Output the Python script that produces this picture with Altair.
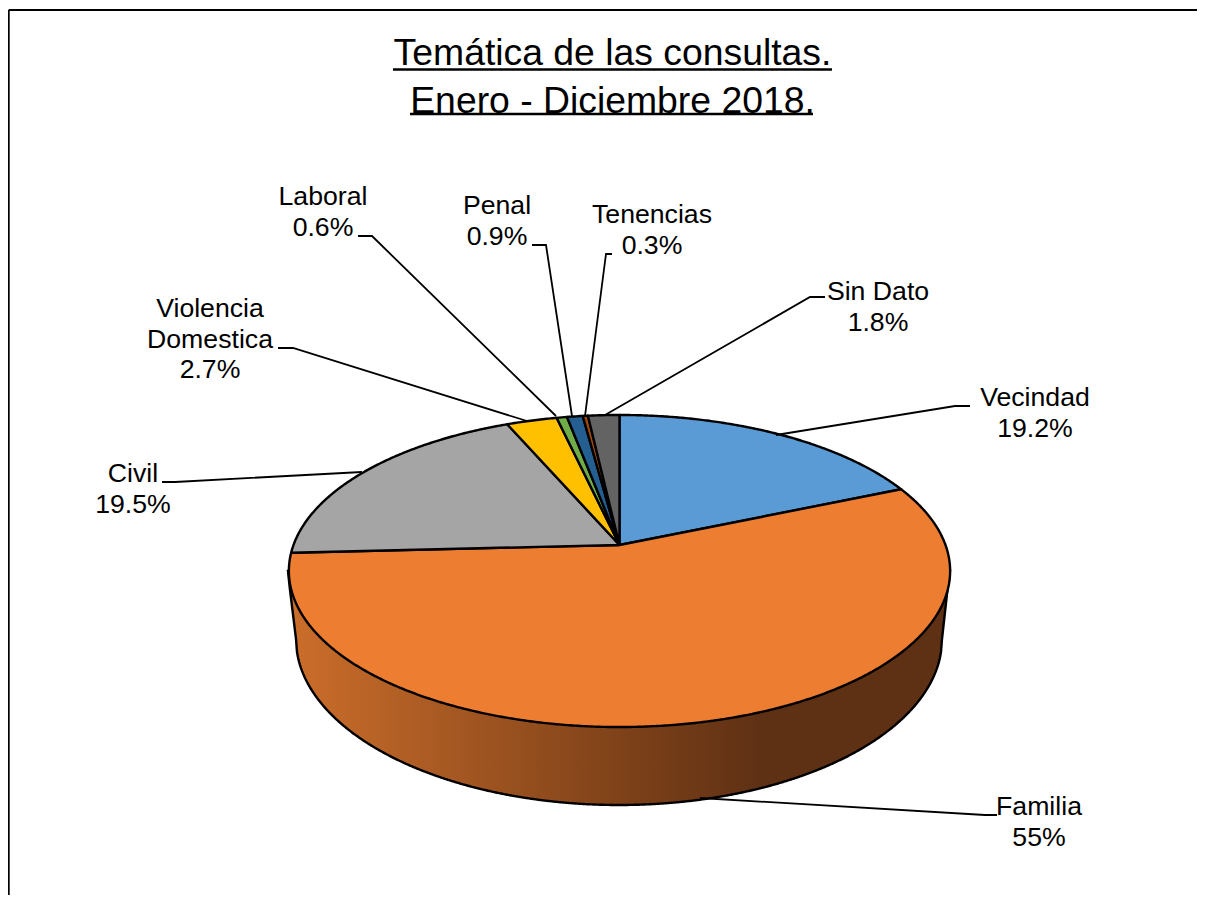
import numpy as np
import pandas as pd
import altair as alt

# ---- data
categories = ["Vecindad", "Familia", "Civil", "Violencia Domestica", "Laboral", "Penal", "Tenencias", "Sin Dato"]
pct_labels = ["19.2%", "55%", "19.5%", "2.7%", "0.6%", "0.9%", "0.3%", "1.8%"]
slice_shares = [18.6, 55.6, 19.3, 2.9, 0.6, 0.9, 0.3, 1.8]
colors = ["#5B9BD5", "#ED7D31", "#A5A5A5", "#FFC000", "#70AD47", "#255E91", "#9E480E", "#636363"]
title_lines = ["Temática de las consultas.", "Enero - Diciembre 2018."]

# ---- layout, in page pixels
W, H = 1189, 887
X_DOM = [8, 8 + W]
Y_DOM = [8, 8 + H]
xs = alt.Scale(domain=X_DOM, range=[0, W], nice=False, zero=False)
ys = alt.Scale(domain=Y_DOM, range=[0, H], nice=False, zero=False)
X = lambda f: alt.X(f, type="quantitative", scale=xs, axis=None)
Y = lambda f: alt.Y(f, type="quantitative", scale=ys, axis=None)

# tilted disc: a circle seen in perspective
CX, CY, R, KP, AP = 619.5, 545.0, 326.0, 0.1667, 151.7


def disc(theta):
    sx, sy = np.sin(theta), np.cos(theta)
    d = 1 + KP * sy
    return CX + R * sx / d, CY - AP * sy / d


layers = []

# side wall, with the light falling from the left
wx = np.arange(288.0, 950.5, 1.0)
BX, BY, BRX, BRY = 619.0, 639.0, 323.0, 166.0
inner = np.clip((wx - BX) / BRX, -1, 1)
wy2 = BY + BRY * np.sqrt(1 - inner ** 2)
wy2 = np.where(wx < 296, np.interp(wx, [288, 290, 296], [571, 590, 639]), wy2)
wy2 = np.where(wx > 942, np.interp(wx, [942, 948, 950], [639, 585, 571]), wy2)
wall = pd.DataFrame({"x": wx, "y": 571.0, "y2": wy2})
wall_fill = alt.LinearGradient(
    gradient="linear", x1=0, x2=1, y1=0, y2=0,
    stops=[
        alt.GradientStop(color="#CC6E2B", offset=0),
        alt.GradientStop(color="#7F4219", offset=0.5),
        alt.GradientStop(color="#5E3014", offset=0.72),
        alt.GradientStop(color="#5E3014", offset=1),
    ],
)
layers.append(
    alt.Chart(wall).mark_area(color=wall_fill, stroke="black", strokeWidth=2.4).encode(
        x=X("x"), y=Y("y"), y2="y2"
    )
)

# top face slices
edges = np.cumsum([0] + slice_shares) / sum(slice_shares) * 2 * np.pi
for i, name in enumerate(categories):
    n = max(3, int((edges[i + 1] - edges[i]) / np.radians(0.4)))
    px, py = disc(np.linspace(edges[i], edges[i + 1], n))
    fx = np.r_[CX, px, CX]
    fy = np.r_[CY, py, CY]
    poly = pd.DataFrame({"x": fx, "y": fy, "i": np.arange(len(fx))})
    layers.append(
        alt.Chart(poly).mark_line(fill=colors[i], stroke="black", strokeWidth=2.4, strokeJoin="round").encode(
            x=X("x"), y=Y("y"), order="i:Q"
        )
    )

# leader lines
leaders = [
    [(776, 435), (955, 406), (970, 406)],
    [(700, 798), (985, 815), (997, 815)],
    [(362, 472), (175, 482), (162, 482)],
    [(527, 421), (293, 348), (278, 348)],
    [(556, 416), (372, 236), (358, 236)],
    [(572, 416), (546, 245), (532, 245)],
    [(585, 416), (606, 254), (612, 254)],
    [(605, 415), (810, 297), (825, 297)],
]
for pts in leaders:
    df = pd.DataFrame({"x": [p[0] for p in pts], "y": [p[1] for p in pts], "i": range(len(pts))})
    layers.append(
        alt.Chart(df).mark_line(color="black", strokeWidth=1.8).encode(x=X("x"), y=Y("y"), order="i:Q")
    )

# data labels
label_pos = [
    (1035, 398), (1039, 807), (133, 474), (210, 309),
    (323, 197), (497, 206), (652, 215), (878, 292),
]
LINE_H = 30.6
rows = []
for name, pct, (lx, ly) in zip(categories, pct_labels, label_pos):
    lines = (["Violencia", "Domestica"] if name.startswith("Violencia") else [name]) + [pct]
    for j, t in enumerate(lines):
        rows.append({"x": lx, "y": ly + j * LINE_H, "t": t})
layers.append(
    alt.Chart(pd.DataFrame(rows)).mark_text(
        font="Liberation Sans", fontSize=26.67, color="black", align="center", baseline="middle"
    ).encode(x=X("x"), y=Y("y"), text="t:N")
)

# title with underlines
title_df = pd.DataFrame({"x": [612.5, 612.5], "y": [64.5, 112.5], "t": title_lines})
layers.append(
    alt.Chart(title_df).mark_text(
        font="Liberation Sans", fontSize=37.33, color="black", align="center", baseline="alphabetic"
    ).encode(x=X("x"), y=Y("y"), text="t:N")
)
under = pd.DataFrame({"x": [393, 410], "x2": [832, 813], "y": [69.5, 114]})
layers.append(
    alt.Chart(under).mark_rule(color="black", strokeWidth=2.5).encode(x=X("x"), x2="x2", y=Y("y"))
)

# frame: only the top and left edges fall inside the picture
top_edge = pd.DataFrame({"x": [8.7], "x2": [1197], "y": [10]})
left_edge = pd.DataFrame({"x": [8.7], "y": [10], "y2": [895]})
layers.append(alt.Chart(top_edge).mark_rule(color="black", strokeWidth=2).encode(x=X("x"), x2="x2", y=Y("y")))
layers.append(alt.Chart(left_edge).mark_rule(color="black", strokeWidth=2).encode(x=X("x"), y=Y("y"), y2="y2"))

chart = (
    alt.layer(*layers)
    .properties(width=W, height=H, padding=0, background="white",
                autosize=alt.AutoSizeParams(type="none"))
    .configure_view(stroke=None)
)
chart.save("out.html", embed_options={"renderer": "svg", "actions": False})
